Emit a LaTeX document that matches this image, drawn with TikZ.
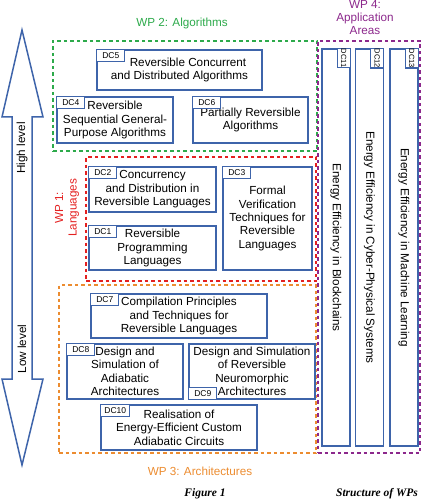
\documentclass[tikz,border=0pt]{standalone}
\usepackage{fontspec}
\setmainfont{Liberation Sans}
\newfontfamily\capfont{Liberation Serif}
\usetikzlibrary{positioning}
\definecolor{boxblue}{RGB}{62,100,170}
\definecolor{wpgreen}{RGB}{45,170,75}
\definecolor{wpred}{RGB}{228,32,32}
\definecolor{wporange}{RGB}{236,140,48}
\definecolor{wppurple}{RGB}{140,40,140}

\begin{document}
\begin{tikzpicture}[x=1pt, y=-1pt,
	every node/.style={font=\fontsize{11.7}{13.4}\selectfont},
	dcbox/.style={draw=boxblue, line width=1.5pt, align=center, inner sep=0pt},
	dctag/.style={draw=boxblue, fill=white, line width=1.1pt, font=\fontsize{8.5}{9}\selectfont, inner sep=0pt, minimum width=28pt, minimum height=12pt, anchor=north west},
	wpframe/.style={draw=#1, line width=1.6pt, dash pattern=on 3.5pt off 3pt, inner sep=0pt}]
	\useasboundingbox (0,0) rectangle (421,500);

	% level arrow
	\draw[boxblue, line width=1.5pt] (22,30) -- (43,117) -- (32,117) -- (32,379) -- (43,379) -- (22,465) -- (2,379) -- (12,379) -- (12,117) -- (2,117) -- cycle;
	\node[rotate=90] (hi) at (22,148) {High level};
	\node[rotate=90] (lo) at (22,349) {Low level};

	% work packages
	\node[wpframe=wpgreen, minimum width=264pt, minimum height=110pt] (wp2) at (185,96) {};
	\node[wpframe=wpred, minimum width=230pt, minimum height=124pt] (wp1) at (201,219) {};
	\node[wpframe=wporange, minimum width=257pt, minimum height=168pt] (wp3) at (187.5,369) {};
	\node[wpframe=wppurple, minimum width=102pt, minimum height=412pt] (wp4) at (369,247) {};
	\node[text=wpgreen] (wp2l) at (182,23) {WP 2: Algorithms};
	\node[text=wpred, rotate=90, align=center] (wp1l) at (67,208) {WP 1:\\Languages};
	\node[text=wporange] (wp3l) at (200,471) {WP 3: Architectures};
	\node[text=wppurple, align=center] (wp4l) at (365,17.5) {WP 4:\\Application\\Areas};

	% WP 2
	\node[dcbox, minimum width=165pt, minimum height=40pt] (dc5) at (179.5,70) {\hspace*{17pt}Reversible Concurrent\\and Distributed Algorithms};
	\node[dctag] (t5) at (dc5.north west) {DC5};
	\node[dcbox, minimum width=116pt, minimum height=46pt] (dc4) at (115,120) {Reversible\\Sequential General-\\Purpose Algorithms};
	\node[dctag] (t4) at (dc4.north west) {DC4};
	\node[dcbox, minimum width=115pt, minimum height=46pt] (dc6) at (250.5,120) {Partially Reversible\\Algorithms};
	\node[dctag] (t6) at (dc6.north west) {DC6};

	% WP 1
	\node[dcbox, minimum width=127pt, minimum height=45pt] (dc2) at (152.5,189.5) {Concurrency\\and Distribution in\\Reversible Languages};
	\node[dctag] (t2) at (dc2.north west) {DC2};
	\node[dcbox, minimum width=127pt, minimum height=44pt] (dc1) at (152.5,248) {Reversible\\Programming\\Languages};
	\node[dctag] (t1) at (dc1.north west) {DC1};
	\node[dcbox, minimum width=89pt, minimum height=103pt] (dc3) at (267.5,218.5) {Formal\\Verification\\Techniques for\\Reversible\\Languages};
	\node[dctag] (t3) at (dc3.north west) {DC3};

	% WP 3
	\node[dcbox, minimum width=176pt, minimum height=44pt] (dc7) at (179,316) {Compilation Principles\\and Techniques for\\Reversible Languages};
	\node[dctag] (t7) at (dc7.north west) {DC7};
	\node[dcbox, minimum width=116pt, minimum height=55pt] (dc8) at (125,371.5) {Design and\\Simulation of\\Adiabatic\\Architectures};
	\node[dctag] (t8) at (dc8.north west) {DC8};
	\node[dcbox, minimum width=126pt, minimum height=55pt] (dc9) at (252,371.5) {Design and Simulation\\of Reversible\\Neuromorphic\\Architectures};
	\node[dctag, anchor=south west] (t9) at (dc9.south west) {DC9};
	\node[dcbox, minimum width=156pt, minimum height=45pt] (dc10) at (179,427.5) {Realisation of\\Energy-Efficient Custom\\Adiabatic Circuits};
	\node[dctag, minimum width=29pt] (t10) at (dc10.north west) {DC10};

	% WP 4
	\node[dcbox, rotate=-90, minimum width=397pt, minimum height=28pt] (dc11) at (336,247.5) {Energy Efficiency in Blockchains};
	\node[dctag, rotate=-90, minimum width=19pt, minimum height=13pt, font=\fontsize{7.5}{8}\selectfont] (t11) at (dc11.north west) {DC11};
	\node[dcbox, rotate=-90, minimum width=397pt, minimum height=28pt] (dc12) at (369.5,247.5) {Energy Efficiency in Cyber-Physical Systems};
	\node[dctag, rotate=-90, minimum width=19pt, minimum height=13pt, font=\fontsize{7.5}{8}\selectfont] (t12) at (dc12.north west) {DC12};
	\node[dcbox, rotate=-90, minimum width=397pt, minimum height=28pt] (dc13) at (404,247.5) {Energy Efficiency in Machine Learning};
	\node[dctag, rotate=-90, minimum width=19pt, minimum height=13pt, font=\fontsize{7.5}{8}\selectfont] (t13) at (dc13.north west) {DC13};

	% captions
	\node[font=\capfont\bfseries\itshape\fontsize{11.5}{13}\selectfont] (fig) at (205,494) {Figure 1};
	\node[font=\capfont\bfseries\itshape\fontsize{11.5}{13}\selectfont] (struct) at (377,494) {Structure of WPs};
\end{tikzpicture}
\end{document}
